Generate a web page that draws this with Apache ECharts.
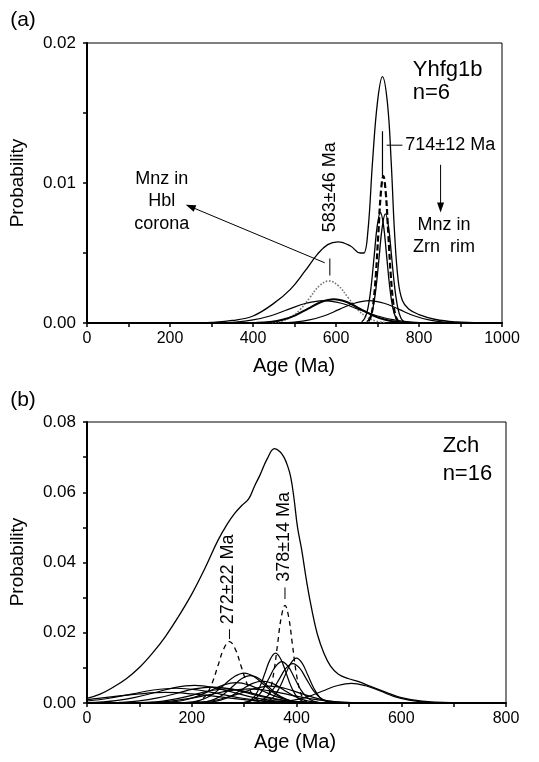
<!DOCTYPE html>
<html><head><meta charset="utf-8">
<script src="https://cdn.jsdelivr.net/npm/echarts@6/dist/echarts.min.js"></script>
<style>html,body{margin:0;padding:0;background:#fff}#c{width:539px;height:762px}</style>
</head><body><div id="c"></div>
<script>
// ---------- Panel (a): Yhfg1b, n=6 ----------
const xTicksA = [0, 200, 400, 600, 800, 1000];
const yTicksA = [0.00, 0.01, 0.02];
const sumA = [[250,0],[300,0.00005],[350,0.00018],[400,0.0005],[450,0.0014],[490,0.0024],[525,0.0037],[555,0.0049],[580,0.0056],[605,0.0058],[635,0.0055],[658,0.0050],[667,0.0050],[677,0.0066],[688,0.0115],[700,0.0158],[712,0.0176],[724,0.0157],[733,0.0115],[741,0.0065],[750,0.0030],[760,0.0016],[775,0.0010],[800,0.0006],[840,0.00025],[890,0.00007],[950,0]];
const dottedA = [[445,0.00003],[468,0.00013],[491,0.00041],[514,0.00097],[537,0.00182],[560,0.00265],[583,0.0030],[606,0.00265],[629,0.00182],[652,0.00097],[675,0.00041],[698,0.00013],[721,0.00003]];
const broadA1 = [[315,0.00002],[358,0.00007],[400,0.00022],[443,0.00052],[485,0.00097],[528,0.00141],[570,0.0016],[613,0.00141],[655,0.00097],[698,0.00052],[740,0.00022],[783,0.00007],[825,0.00002]];
const broadA2 = [[409,0.00002],[440,0.000075],[471,0.00023],[502,0.00055],[533,0.00103],[564,0.0015],[595,0.0017],[626,0.0015],[657,0.00103],[688,0.00055],[719,0.00023],[750,0.000075],[781,0.00002]];
const broadA3 = [[464,0.00002],[500,0.00007],[536,0.00022],[572,0.00052],[608,0.00097],[644,0.00141],[680,0.0016],[716,0.00141],[752,0.00097],[788,0.00052],[824,0.00022],[860,0.00007],[896,0.00002]];
const narrowA1 = [[662,0.00009],[669.5,0.00035],[677,0.00107],[684.5,0.00257],[692,0.00479],[699.5,0.00697],[707,0.0079],[714.5,0.00697],[722,0.00479],[729.5,0.00257],[737,0.00107],[744.5,0.00035],[752,0.00009]];
const narrowA2 = [[674,0.00009],[681.5,0.00034],[689,0.00106],[696.5,0.00253],[704,0.00473],[711.5,0.00688],[719,0.0078],[726.5,0.00688],[734,0.00473],[741.5,0.00253],[749,0.00106],[756.5,0.00034],[764,0.00009]];
const dashedA = [[678,0.00012],[684,0.00046],[690,0.00142],[696,0.00341],[702,0.00637],[708,0.00927],[714,0.0105],[720,0.00927],[726,0.00637],[732,0.00341],[738,0.00142],[744,0.00046],[750,0.00012]];

// ---------- Panel (b): Zch, n=16 ----------
const xTicksB = [0, 200, 400, 600, 800];
const yTicksB = [0.00, 0.02, 0.04, 0.06, 0.08];
const sumB = [[0,0.0013],[25,0.0025],[50,0.0045],[75,0.0069],[100,0.0101],[125,0.0142],[150,0.0190],[175,0.0247],[200,0.0310],[225,0.0383],[250,0.0463],[268,0.0510],[282,0.0540],[296,0.0563],[309,0.0582],[320,0.0618],[330,0.0648],[344,0.0695],[358,0.0724],[368,0.0716],[376,0.0700],[383,0.0675],[389,0.0643],[395,0.0585],[402,0.0500],[410,0.0435],[420,0.0340],[430,0.0260],[440,0.0195],[452,0.0143],[465,0.0105],[480,0.0082],[500,0.0069],[520,0.0060],[540,0.0048],[570,0.0031],[600,0.0015],[640,0.0005],[700,0.0001],[800,0]];
const dashedB1 = [[206,0.0002],[217,0.0008],[228,0.0024],[239,0.0057],[250,0.0106],[261,0.0154],[272,0.0175],[283,0.0154],[294,0.0106],[305,0.0057],[316,0.0024],[327,0.0008],[338,0.0002]];
const dashedB2 = [[336,0.0003],[343,0.0012],[350,0.0038],[357,0.0090],[364,0.0169],[371,0.0245],[378,0.0278],[385,0.0245],[392,0.0169],[399,0.0090],[406,0.0038],[413,0.0012],[420,0.0003]];
const grainB1 = [[300,0.00016],[310,0.0006],[320,0.0019],[330,0.0046],[340,0.0086],[350,0.0125],[360,0.0142],[370,0.0125],[380,0.0086],[390,0.0046],[400,0.0019],[410,0.0006],[420,0.00016]];
const grainB2 = [[334,0.00014],[345,0.00056],[356,0.0017],[367,0.0042],[378,0.0078],[389,0.0113],[400,0.0128],[411,0.0113],[422,0.0078],[433,0.0042],[444,0.0017],[455,0.00056],[466,0.00014]];
const grainB3 = [[300,0.00013],[312,0.00052],[324,0.0016],[336,0.0038],[348,0.0072],[360,0.0104],[372,0.0118],[384,0.0104],[396,0.0072],[408,0.0038],[420,0.0016],[432,0.00052],[444,0.00013]];
const grainB4 = [[315,0.00012],[328,0.0005],[341,0.0015],[354,0.0036],[367,0.0068],[380,0.0099],[393,0.0112],[406,0.0099],[419,0.0068],[432,0.0036],[445,0.0015],[458,0.0005],[471,0.00012]];
const grainB5 = [[186,0.0001],[205,0.00037],[224,0.0012],[243,0.0028],[262,0.0052],[281,0.0075],[300,0.0085],[319,0.0075],[338,0.0052],[357,0.0028],[376,0.0012],[395,0.00037],[414,0.0001]];
const grainB6 = [[210,0.00009],[227,0.00034],[244,0.0011],[261,0.0025],[278,0.0047],[295,0.0069],[312,0.0078],[329,0.0069],[346,0.0047],[363,0.0025],[380,0.0011],[397,0.00034],[414,0.00009]];
const grainB7 = [[215,0.00007],[235,0.00027],[255,0.0008],[275,0.0020],[295,0.0038],[315,0.0055],[335,0.0062],[355,0.0055],[375,0.0038],[395,0.0020],[415,0.0008],[435,0.00027],[455,0.00007]];
const grainB8 = [[135,0.00006],[160,0.00026],[185,0.00078],[210,0.0019],[235,0.0035],[260,0.0051],[285,0.0058],[310,0.0051],[335,0.0035],[360,0.0019],[385,0.00078],[410,0.00026],[435,0.00006]];
const grainB9 = [[0,0.00012],[30,0.00033],[55,0.00068],[92,0.0016],[130,0.0030],[167,0.0044],[205,0.0050],[242,0.0044],[280,0.0030],[317,0.0016],[355,0.00068],[392,0.00022],[430,0.00006]];
const grainB10 = [[0,0.00057],[42,0.00136],[85,0.00255],[127,0.0037],[170,0.0042],[212,0.0037],[255,0.00255],[297,0.00136],[340,0.00057],[382,0.00018],[425,0.00005]];
const grainB11 = [[30,0.00005],[65,0.0002],[100,0.00061],[135,0.00146],[170,0.0027],[205,0.0040],[240,0.0045],[275,0.0040],[310,0.0027],[345,0.00146],[380,0.00061],[415,0.0002],[450,0.00005]];
const grainB12 = [[85,0.00004],[115,0.00018],[145,0.00054],[175,0.0013],[205,0.0024],[235,0.0035],[265,0.0040],[295,0.0035],[325,0.0024],[355,0.0013],[385,0.00054],[415,0.00018],[445,0.00004]];
const grainB13 = [[85,0.00004],[122,0.00018],[160,0.00054],[197,0.0013],[235,0.0024],[272,0.0035],[310,0.0040],[347,0.0035],[385,0.0024],[422,0.0013],[460,0.00054],[497,0.00018],[535,0.00004]];
const grainB14 = [[340,0.00006],[367,0.00025],[395,0.0008],[422,0.0018],[450,0.0034],[477,0.0049],[505,0.0056],[532,0.0049],[560,0.0034],[587,0.0018],[615,0.0008],[642,0.00025],[670,0.00006]];
const grainB15 = [[185,0.00005],[212,0.0002],[240,0.00065],[267,0.0016],[295,0.0029],[322,0.0042],[350,0.0048],[377,0.0042],[405,0.0029],[432,0.0016],[460,0.00065],[487,0.0002],[515,0.00005]];
const grainB16 = [[0,0.00097],[50,0.0018],[100,0.0026],[150,0.0030],[200,0.0026],[250,0.0018],[300,0.00097],[350,0.0004],[400,0.00013],[450,0.00003]];

const FONT = '"Liberation Sans", Arial, Helvetica, sans-serif';
const chart = echarts.init(document.getElementById('c'), null, {renderer: 'canvas'});

function ln(data, g, width, type, color, z) {
  return {type: 'line', xAxisIndex: g, yAxisIndex: g, data: data, showSymbol: false, symbol: 'none',
    smooth: 0.4, silent: true, animation: false, z: z || 2,
    lineStyle: {width: width, type: type || 'solid', color: color || '#000'}};
}
function near(v, ticks) { return ticks.some(t => Math.abs(t - v) < 1e-9); }
function xAx(g, max, ticks) {
  return {gridIndex: g, type: 'value', min: 0, max: max, interval: 100,
    axisLine: {show: true, onZero: false, lineStyle: {color: '#000', width: 2}},
    axisTick: {show: true, inside: false, length: 4, lineStyle: {color: '#000', width: 1.5}},
    axisLabel: {color: '#000', fontSize: 16, fontFamily: FONT, margin: 8,
      formatter: v => near(v, ticks) ? String(v) : ''},
    splitLine: {show: false}};
}
function yAx(g, max, step, ticks) {
  return {gridIndex: g, type: 'value', min: 0, max: max, interval: step,
    axisLine: {show: true, onZero: false, lineStyle: {color: '#000', width: 2}},
    axisTick: {show: true, inside: false, length: 4, lineStyle: {color: '#000', width: 1.5}},
    axisLabel: {color: '#000', fontSize: 17, fontFamily: FONT, margin: 11,
      formatter: v => near(v, ticks) ? v.toFixed(2) : ''},
    splitLine: {show: false}};
}

const option = {
  animation: false,
  backgroundColor: '#fff',
  grid: [
    {left: 87, top: 43, width: 415, height: 280, show: true, borderColor: '#000', borderWidth: 1},
    {left: 87, top: 422, width: 419, height: 281, show: true, borderColor: '#000', borderWidth: 1}
  ],
  xAxis: [xAx(0, 1000, xTicksA), xAx(1, 800, xTicksB)],
  yAxis: [yAx(0, 0.02, 0.005, yTicksA), yAx(1, 0.08, 0.01, yTicksB)],
  series: [
    ln(sumA, 0, 1.3),
    ln(dottedA, 0, 1.6, 'dotted', '#777'),
    ln(broadA1, 0, 1.2),
    ln(broadA2, 0, 2.0),
    ln(broadA3, 0, 1.2),
    ln(narrowA1, 0, 1.3),
    ln(narrowA2, 0, 1.3),
    ln(dashedA, 0, 2.2, [6, 3]),
    ln(sumB, 1, 1.3),
    ln(dashedB1, 1, 1.3, [5, 4]),
    ln(dashedB2, 1, 1.3, [5, 4]),
    ln(grainB1, 1, 1.2), ln(grainB2, 1, 1.2), ln(grainB3, 1, 1.2), ln(grainB4, 1, 1.2),
    ln(grainB5, 1, 1.2), ln(grainB6, 1, 1.2), ln(grainB7, 1, 1.2), ln(grainB8, 1, 1.2),
    ln(grainB9, 1, 1.2), ln(grainB10, 1, 1.2), ln(grainB11, 1, 1.2), ln(grainB12, 1, 1.2),
    ln(grainB13, 1, 1.2), ln(grainB14, 1, 1.2), ln(grainB15, 1, 1.2), ln(grainB16, 1, 1.2)
  ]
};
chart.setOption(option);

function P(g, x, y) { return chart.convertToPixel({gridIndex: g}, [x, y]); }
function txt(px, py, s, size, opt) {
  opt = opt || {};
  const al = opt.align || 'center';
  return {type: 'text', x: px, y: py, rotation: opt.rot || 0, silent: true, z: 10,
    style: {text: s, font: size + 'px ' + FONT, fill: '#000',
      align: al, verticalAlign: 'middle', textAlign: al, textVerticalAlign: 'middle'}};
}
function dtxt(g, x, y, s, size, opt) { const p = P(g, x, y); return txt(p[0], p[1], s, size, opt); }
function seg(g, x1, y1, x2, y2, w, col) {
  const a = P(g, x1, y1), b = P(g, x2, y2);
  return {type: 'line', silent: true, z: 10, shape: {x1: a[0], y1: a[1], x2: b[0], y2: b[1]},
    style: {stroke: col || '#000', lineWidth: w || 1}};
}
function arrow(g, x1, y1, x2, y2) {
  const a = P(g, x1, y1), b = P(g, x2, y2);
  const dx = b[0] - a[0], dy = b[1] - a[1], L = Math.hypot(dx, dy);
  const ux = dx / L, uy = dy / L, nx = -uy, ny = ux, hl = 10, hw = 3.5;
  return [
    {type: 'line', silent: true, z: 10, shape: {x1: a[0], y1: a[1], x2: b[0] - ux * hl * 0.8, y2: b[1] - uy * hl * 0.8},
      style: {stroke: '#000', lineWidth: 1}},
    {type: 'polygon', silent: true, z: 10, shape: {points: [[b[0], b[1]],
      [b[0] - ux * hl + nx * hw, b[1] - uy * hl + ny * hw], [b[0] - ux * hl - nx * hw, b[1] - uy * hl - ny * hw]]},
      style: {fill: '#000'}}
  ];
}
const R = Math.PI / 2;
const graphics = [
  txt(23, 20, '(a)', 21),
  txt(23, 400, '(b)', 21),
  txt(18, 183, 'Probability', 19, {rot: R}),
  txt(18, 562, 'Probability', 19, {rot: R}),
  txt(294, 366, 'Age (Ma)', 20),
  txt(295, 742, 'Age (Ma)', 20),
  // panel (a) annotations
  dtxt(0, 785, 0.01807, 'Yhfg1b', 22, {align: 'left'}),
  dtxt(0, 785, 0.01646, 'n=6', 22, {align: 'left'}),
  seg(0, 712, 0.0105, 712, 0.0137, 1.2),
  seg(0, 722, 0.0127, 760, 0.0127, 1),
  dtxt(0, 767, 0.0127, '714±12 Ma', 18, {align: 'left'}),
  ...arrow(0, 852, 0.0113, 852, 0.0079),
  dtxt(0, 860, 0.0070, 'Mnz in', 18),
  dtxt(0, 860, 0.0054, 'Zrn  rim', 18),
  dtxt(0, 586, 0.0097, '583±46 Ma', 18, {rot: R}),
  seg(0, 585, 0.0034, 585, 0.0046, 1.4, '#444'),
  dtxt(0, 180, 0.0103, 'Mnz in', 18),
  dtxt(0, 180, 0.00868, 'Hbl', 18),
  dtxt(0, 180, 0.00708, 'corona', 18),
  ...arrow(0, 573, 0.0043, 238, 0.00845),
  // panel (b) annotations
  dtxt(1, 679, 0.0733, 'Zch', 22, {align: 'left'}),
  dtxt(1, 679, 0.0651, 'n=16', 22, {align: 'left'}),
  dtxt(1, 270, 0.0352, '272±22 Ma', 18, {rot: R}),
  seg(1, 272, 0.0182, 272, 0.0210, 1),
  dtxt(1, 376, 0.0473, '378±14 Ma', 18, {rot: R}),
  seg(1, 378, 0.0296, 378, 0.0329, 1)
];
chart.setOption({graphic: graphics});
</script>
</body></html>
